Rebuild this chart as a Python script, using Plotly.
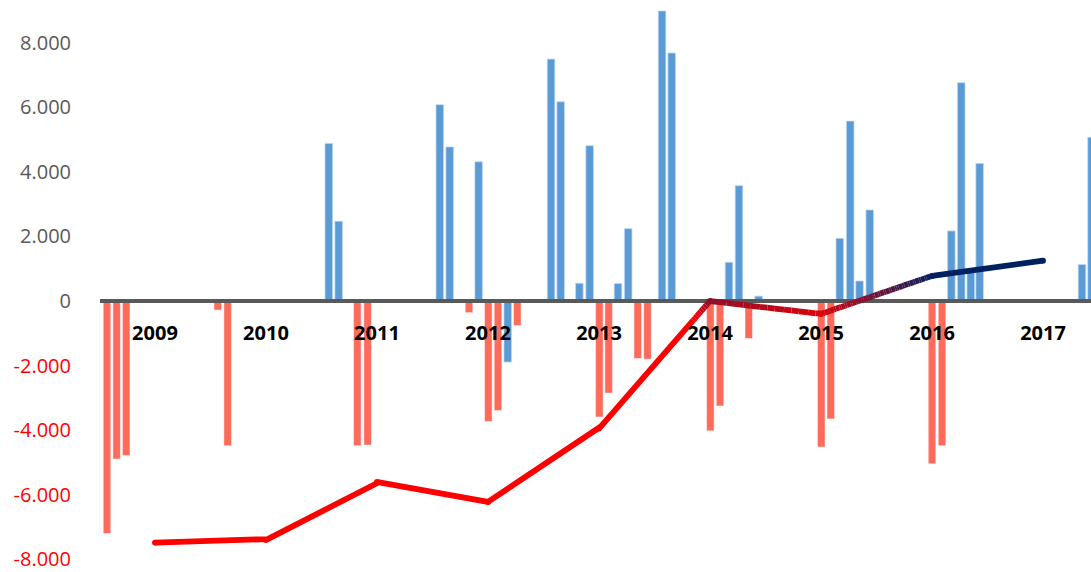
import plotly.graph_objects as go

# ---------------- data ----------------
years = [2009, 2010, 2011, 2012, 2013, 2014, 2015, 2016, 2017]
line_values = [-7480, -7400, -5600, -6220, -3950, 0, -400, 780, 1250]

red_x = [2008.568, 2008.655, 2008.741, 2009.566, 2009.655, 2010.823, 2010.916,
         2011.829, 2012.003, 2012.090, 2012.264, 2013.003, 2013.087, 2013.349,
         2013.437, 2014.003, 2014.090, 2014.349, 2015.002, 2015.088, 2016.000,
         2016.090]
red_y = [-7200, -4890, -4780, -280, -4480, -4480, -4460,
         -360, -3730, -3390, -760, -3590, -2850, -1780,
         -1800, -4020, -3250, -1160, -4520, -3650, -5040,
         -4480]

blue_x = [2010.566, 2010.655, 2011.566, 2011.655, 2011.916, 2012.178, 2012.568,
          2012.655, 2012.823, 2012.916, 2013.171, 2013.263, 2013.568, 2013.655,
          2014.171, 2014.261, 2014.438, 2015.169, 2015.263, 2015.347, 2015.439,
          2016.174, 2016.263, 2016.349, 2016.429, 2017.351, 2017.437]
blue_y = [4880, 2470, 6080, 4770, 4310, -1890, 7490,
          6170, 550, 4810, 540, 2240, 8980, 7680,
          1200, 3570, 150, 1940, 5570, 620, 2820,
          2170, 6760, 950, 4260, 1130, 5070]

y_ticks = [-8000, -6000, -4000, -2000, 0, 2000, 4000, 6000, 8000]

# ---------------- style ----------------
BLUE = "#5B9BD5"
RED = "#FF6A5A"
AXIS_GRAY = "#595959"
X_RANGE = [2008.505, 2017.432]
Y_RANGE = [-8390, 9320]
LINE_W = 5.8
GRAD_LO, GRAD_HI = -600, 800          # value band where the line fades red -> navy
C_START = (255, 0, 0)
C_END = (0, 32, 96)


def grad_color(v, levels=48):
    t = (v - GRAD_LO) / (GRAD_HI - GRAD_LO)
    t = min(max(t, 0.0), 1.0)
    t = round(t * levels) / levels
    r, g, b = (round(a + (c - a) * t) for a, c in zip(C_START, C_END))
    return f"rgb({r},{g},{b})"


def fmt(v):
    s = f"{abs(v):,}".replace(",", ".")
    return ("-" if v < 0 else "") + s


fig = go.Figure()

bar_w = 0.068
fig.add_trace(go.Bar(x=blue_x, y=blue_y, width=bar_w,
                     marker=dict(color=BLUE, line=dict(width=0.8, color="rgba(189,215,238,0.9)")),
                     showlegend=False, hoverinfo="skip"))
fig.add_trace(go.Bar(x=red_x, y=red_y, width=bar_w,
                     marker=dict(color=RED, line=dict(width=0.8, color="rgba(255,255,255,0.6)")),
                     showlegend=False, hoverinfo="skip"))

# zero line (drawn above bars, below the trend line)
fig.add_trace(go.Scatter(x=X_RANGE, y=[0, 0], mode="lines",
                         line=dict(color=AXIS_GRAY, width=4), showlegend=False,
                         hoverinfo="skip", cliponaxis=True))

# gradient trend line: split each segment into short pieces coloured by value
K = 60
runs = []  # list of [color, xs, ys]
for i in range(len(years) - 1):
    x0, x1 = years[i], years[i + 1]
    v0, v1 = line_values[i], line_values[i + 1]
    for k in range(K):
        a, b = k / K, (k + 1) / K
        xa, xb = x0 + (x1 - x0) * a, x0 + (x1 - x0) * b
        ya, yb = v0 + (v1 - v0) * a, v0 + (v1 - v0) * b
        col = grad_color((ya + yb) / 2)
        if runs and runs[-1][0] == col and runs[-1][1][-1] == xa:
            runs[-1][1].append(xb)
            runs[-1][2].append(yb)
        else:
            runs.append([col, [xa, xb], [ya, yb]])

for col, xs, ys in runs:
    fig.add_trace(go.Scatter(x=xs, y=ys, mode="lines", line=dict(color=col, width=LINE_W),
                             showlegend=False, hoverinfo="skip"))

# round joints / caps
fig.add_trace(go.Scatter(x=years, y=line_values, mode="markers",
                         marker=dict(size=LINE_W, color=[grad_color(v) for v in line_values],
                                     line=dict(width=0)),
                         showlegend=False, hoverinfo="skip"))

zero_frac = (0 - Y_RANGE[0]) / (Y_RANGE[1] - Y_RANGE[0])

y_ticktext = [
    f"<span style='color:#FF0000'>{fmt(v)}</span>" if v < 0 else fmt(v)
    for v in y_ticks
]

fig.update_layout(
    width=1091, height=572, autosize=False,
    margin=dict(l=100, r=0, t=0, b=0, pad=0),
    paper_bgcolor="white", plot_bgcolor="white",
    barmode="overlay",
    showlegend=False,
    xaxis=dict(
        range=X_RANGE, anchor="free", position=zero_frac,
        tickmode="array", tickvals=years, ticktext=[f"<b>{y}</b>" for y in years],
        tickfont=dict(family="Open Sans", size=20, color="#000000"),
        ticks="outside", ticklen=14, tickcolor="rgba(0,0,0,0)",
        showgrid=False, zeroline=False, showline=False, automargin=False,
        ticklabeloverflow="allow",
    ),
    yaxis=dict(
        range=Y_RANGE,
        tickmode="array", tickvals=y_ticks, ticktext=y_ticktext,
        tickfont=dict(family="Open Sans", size=20, color=AXIS_GRAY),
        ticks="outside", ticklen=24, tickcolor="rgba(0,0,0,0)",
        showgrid=False, zeroline=False, showline=False, automargin=False,
        ticklabeloverflow="allow",
    ),
)

fig.write_html("out.html", config={"displayModeBar": False},
               post_script="document.body.style.margin='0';document.body.style.overflow='hidden';")
